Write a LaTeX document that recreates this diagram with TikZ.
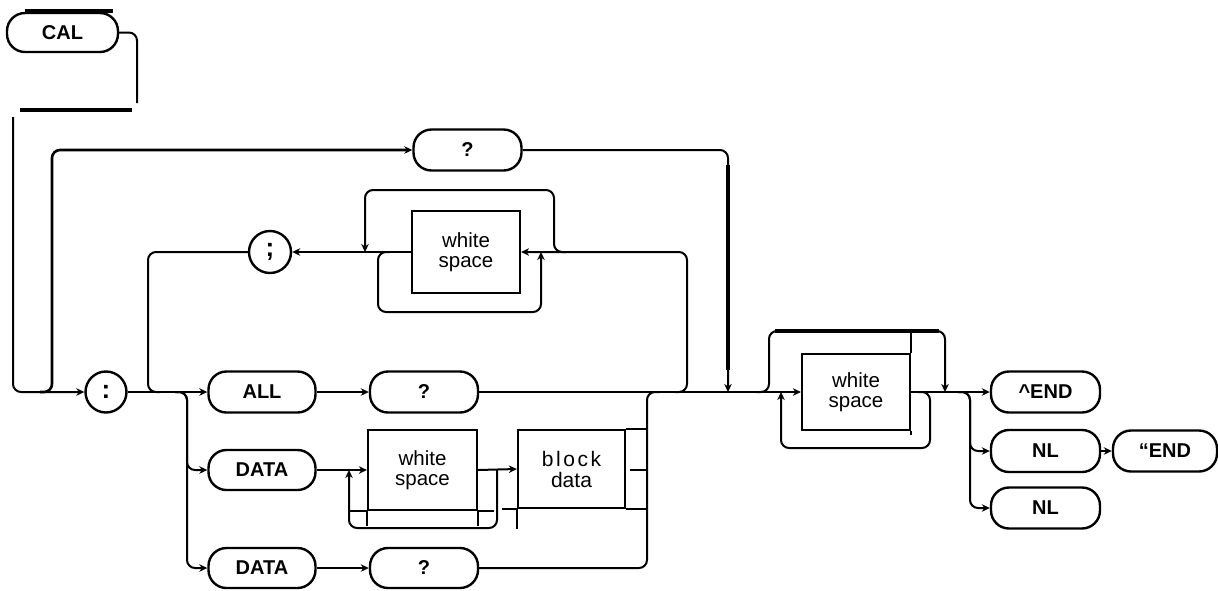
\documentclass[tikz,border=0pt]{standalone}
\usepackage{fontspec}
\setmainfont{Liberation Sans}
\usetikzlibrary{arrows.meta}
\begin{document}
\begin{tikzpicture}[x=1pt,y=-1pt,line width=2pt,
  pill/.style={draw,line width=2.4pt,rounded corners=18pt,minimum width=108pt,minimum height=41pt,inner sep=0pt,
    font=\fontsize{20}{20}\selectfont\bfseries},
  circ/.style={draw,line width=2.4pt,circle,minimum size=41pt,inner sep=0pt,font=\fontsize{26}{26}\selectfont\bfseries},
  wsbox/.style={draw,line width=2.2pt,rectangle,inner sep=0pt,align=center,font=\fontsize{20.5}{20.5}\selectfont},
  arr/.style={-{Stealth[length=8pt,width=7.5pt,inset=2.5pt]}},
  conn/.style={rounded corners=8pt},
  heavy/.style={line width=3.2pt}]
\useasboundingbox (0,0) rectangle (1218,590);

% nodes
\node[pill,minimum width=111pt,minimum height=39pt] (cal) at (62.5,32.5) {CAL};
\node[circ] (colon) at (106,392) {:};
\node[circ,minimum size=42pt] (semi) at (270,252) {;};
\node[pill] (qtop) at (467.5,150) {?};
\node[wsbox,minimum width=108pt,minimum height=82pt] (wsA) at (466,252) {white\\space};
\node[pill,minimum width=107pt] (all) at (262,392) {ALL};
\node[pill] (qall) at (424,392) {?};
\node[pill,minimum width=107pt,minimum height=40pt] (data1) at (262,470) {DATA};
\node[wsbox,minimum width=109pt,minimum height=80pt] (wsB) at (422.5,470) {white\\space};
\node[wsbox,minimum width=107pt,minimum height=78pt,font=\fontsize{21}{21}\selectfont] (blk) at (571.5,469)
  {b\kern2.5pt l\kern2.5pt o\kern2.5pt c\kern2.5pt k\\data};
\node[pill,minimum width=107pt,minimum height=40pt] (data2) at (262,568) {DATA};
\node[pill,minimum height=40pt] (qd2) at (424,568) {?};
\node[wsbox,minimum width=108pt,minimum height=76pt] (wsC) at (856,392) {white\\space};
\node[pill,minimum width=109pt] (endA) at (1045.5,392) {\textasciicircum END};
\node[pill,minimum width=109pt,minimum height=42pt] (nl1) at (1045.5,451) {NL};
\node[pill,minimum width=104pt] (qend) at (1165,451) {“END};
\node[pill,minimum width=109pt] (nl2) at (1045.5,508) {NL};

% coordinates
\coordinate (c1) at (137,103);
\coordinate (b1) at (20,110);
\coordinate (b2) at (132,110);
\coordinate (v0) at (13,117);
\coordinate (tl) at (25,11);
\coordinate (tr) at (113,11);

% CAL entry
\draw[heavy] (tl) -- (tr);
\draw[conn] (cal.east) -| (c1);
\draw[heavy] (b1) -- (b2);
\draw[conn,arr] (v0) |- (colon.west);

% top ? branch
\draw[conn,arr,line width=2.6pt] (40,392) -- (52,392) -- (52,150) -- (qtop.west);
\draw[conn,arr] (qtop.east) -- (728,150) -- (728,392);
\draw[heavy] (728,165) -- (728,370);

% ; loop
\draw[conn] (semi.west) -| (148,392) -- (160,392);
\draw[arr] (wsA.west) -- (semi.east);
\draw[conn,arr] (675,392) -- (687,392) -- (687,252) -- (wsA.east);
\draw[conn,arr] (566,252) -- (554,252) -- (554,190) -- (365,190) -- (365,252);
\draw[conn,arr] (390,252) -- (378,252) -- (378,312) -- (541,312) -- (541,252);

% main line
\draw[arr] (colon.east) -- (all.west);
\draw[arr] (all.east) -- (qall.west);
\draw[arr] (qall.east) -- (wsC.west);
\draw[conn,arr] (175,392) -- (187,392) |- (data1.west);
\draw[conn,arr] (175,392) -- (187,392) |- (data2.west);
\draw[arr] (data2.east) -- (qd2.west);

% DATA / block data row
\draw[arr] (data1.east) -- (wsB.west);
\draw[arr] (wsB.east) -- (blk.west);
\draw[conn,arr] (497,470) -- (497,528) -- (349,528) -- (349,470);
\draw (wsB.south west) -- ++(0,15);
\draw (wsB.south east) -- ++(0,15);
\draw (wsB.south west) -- ++(-19,0);
\draw (wsB.south east) -- ++(16,0);
\draw (blk.north east) -- ++(22,0);
\draw (blk.south east) -- ++(22,0);
\draw (blk.south west) -- ++(0,20);
\draw (blk.south west) -- ++(-15,0);
\draw (blk.east) ++(4,1) -- ++(18,0);
\draw[conn] (qd2.east) -| (647,392) -- (660,392);

% right white space
\draw[conn,arr] (757,392) -- (769,392) -- (769,331) -- (945,331) -- (945,392);
\draw[heavy] (775,331) -- (939,331);
\draw (wsC.north east) -- (wsC.north east |- 0,331);
\draw (wsC.south east) -- ++(0,4);
\draw[conn,arr] (918,392) -- (930,392) -- (930,448) -- (781,448) -- (781,392);

% endings
\draw[arr] (wsC.east) -- (endA.west);
\draw[conn,arr] (958,392) -- (970,392) |- (nl1.west);
\draw[conn,arr] (958,392) -- (970,392) |- (nl2.west);
\draw[arr] (nl1.east) -- (qend.west);
\end{tikzpicture}
\end{document}
